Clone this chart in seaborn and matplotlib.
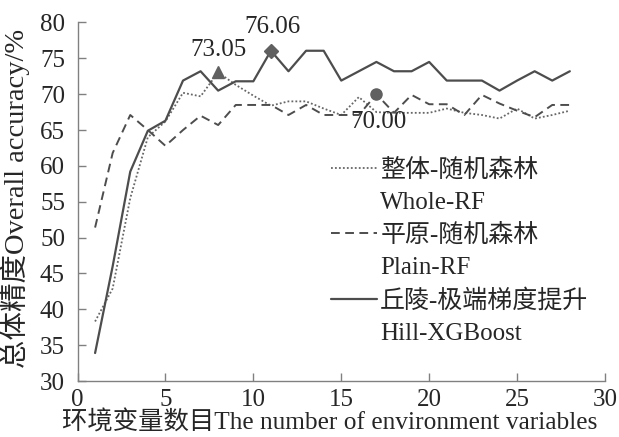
import matplotlib
matplotlib.use("Agg")
import matplotlib.pyplot as plt
from matplotlib.lines import Line2D
import seaborn as sns
import pandas as pd

n_vars = list(range(1, 29))
whole_rf = [38.3, 42.9, 55.5, 64.0, 66.2, 70.2, 69.7, 73.05, 71.3, 69.8, 68.4, 69.0, 69.0, 68.0,
            67.1, 69.6, 67.5, 67.4, 67.4, 67.4, 68.0, 67.4, 67.1, 66.6, 68.0, 66.6, 67.1, 67.7]
plain_rf = [51.4, 61.8, 67.1, 65.0, 62.8, 65.0, 67.0, 65.7, 68.5, 68.5, 68.5, 67.1, 68.5, 67.1,
            67.1, 67.1, 70.00, 67.4, 69.9, 68.6, 68.6, 67.1, 69.9, 68.7, 67.7, 66.8, 68.5, 68.5]
hill_xgb = [33.9, 46.0, 59.2, 64.9, 66.3, 71.9, 73.2, 70.5, 71.8, 71.8, 76.06, 73.2, 76.06, 76.06,
            71.9, 73.2, 74.5, 73.2, 73.2, 74.5, 71.9, 71.9, 71.9, 70.5, 71.9, 73.2, 71.9, 73.2]

labels_cn = ["整体-随机森林", "平原-随机森林", "丘陵-极端梯度提升"]
labels_en = ["Whole-RF", "Plain-RF", "Hill-XGBoost"]
highlights = [(8, 73.05, "^", "73.05"), (11, 76.06, "D", "76.06"), (17, 70.00, "o", "70.00")]

sns.set_theme(style="white")
FAM = ["Liberation Serif", "Noto Sans CJK SC"]
plt.rcParams["font.family"] = FAM
plt.rcParams["font.size"] = 18

fig = plt.figure(figsize=(6.19, 4.37), dpi=100)
ax = fig.add_axes([77.5 / 619, 1 - 381 / 437, (605 - 77.5) / 619, (381 - 22.5) / 437])

df = pd.DataFrame({"x": n_vars, "whole": whole_rf, "plain": plain_rf, "hill": hill_xgb})
c = "#4d4d4d"
dot = (0, (1, 1.2))
dash = (0, (4.5, 2.8))
sns.lineplot(data=df, x="x", y="whole", ax=ax, color="#666666", lw=1.3, linestyle=dot)
sns.lineplot(data=df, x="x", y="plain", ax=ax, color=c, lw=1.4, linestyle=dash)
sns.lineplot(data=df, x="x", y="hill", ax=ax, color=c, lw=1.6, linestyle="-")

for (hx, hy, m, t) in highlights:
    ax.plot([hx], [hy], marker=m, color="#606060", markersize=8 if m != "D" else 7, ls="none")
ax.text(8, 74.6, highlights[0][3], ha="center", va="bottom", fontsize=18)
ax.text(11.1, 77.9, highlights[1][3], ha="center", va="bottom", fontsize=18)
ax.text(17.1, 67.6, highlights[2][3], ha="center", va="top", fontsize=18)

ax.set_xlim(0, 30)
ax.set_ylim(30, 80)
ax.set_xticks(range(0, 31, 5))
ax.set_yticks(range(30, 81, 5))
for s in ["top", "right"]:
    ax.spines[s].set_visible(False)
for s in ["left", "bottom"]:
    ax.spines[s].set_color("#808080")
    ax.spines[s].set_linewidth(1.0)
ax.tick_params(direction="in", length=6, width=1, color="#808080", labelsize=18, pad=9,
               left=True, bottom=True)
ax.tick_params(axis="x", pad=6)
ax.set_xlabel("环境变量数目The number of environment variables", fontsize=18.3)
ax.xaxis.set_label_coords(0.479, -0.082)
ax.set_ylabel("总体精度Overall accuracy/%", fontsize=20.5)
ax.yaxis.set_label_coords(-0.09, 0.51)

h1 = Line2D([], [], color="#666666", lw=1.3, linestyle=dot)
h2 = Line2D([], [], color=c, lw=1.4, linestyle=dash)
h3 = Line2D([], [], color=c, lw=1.6)
blank = Line2D([], [], color="none")
handles = [h1, blank, h2, blank, h3, blank]
labs = [labels_cn[0], labels_en[0], labels_cn[1], labels_en[1], labels_cn[2], labels_en[2]]
ax.legend(handles, labs, loc="upper left", bbox_to_anchor=(331 / 619, 1 - 159 / 437),
          bbox_transform=fig.transFigure, frameon=False, handlelength=1.85, handletextpad=0.12,
          labelspacing=0.39, borderpad=0, borderaxespad=0, fontsize=18)

fig.savefig("out.png", dpi=100)
